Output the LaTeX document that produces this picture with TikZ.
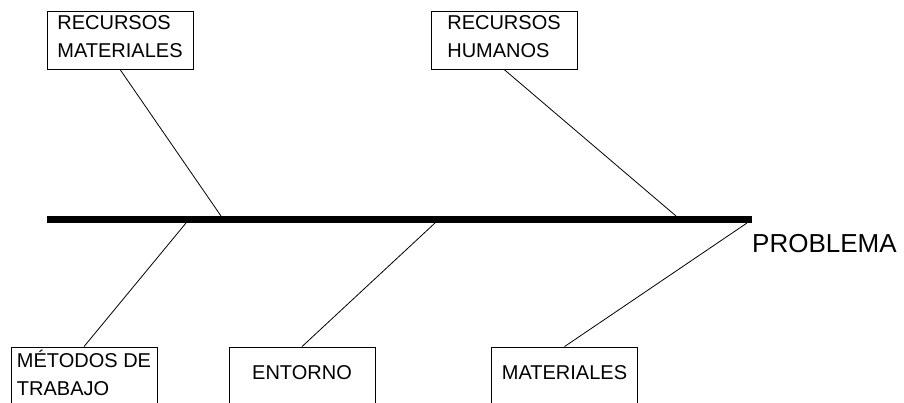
\documentclass[tikz,border=0pt]{standalone}
\usepackage{fontspec}
\setmainfont{Liberation Sans}

\begin{document}
\begin{tikzpicture}[x=1pt,y=-1pt,
  causa/.style={draw,line width=0.8pt,minimum width=146pt,minimum height=58pt,
    inner sep=0pt,text depth=6pt,align=left,font=\fontsize{20}{28}\selectfont},
  espina/.style={line width=0.8pt}]
  % Frame
  \useasboundingbox (0,0) rectangle (904,403);
  \clip (0,0) rectangle (904,403);

  % Spine
  \coordinate (cola) at (47,219.5);
  \coordinate (cabeza) at (752,219.5);
  \draw[line width=7pt] (cola) -- (cabeza);
  \node[anchor=west,inner sep=0pt,font=\fontsize{26}{30}\selectfont] (problema) at (752,244) {PROBLEMA};

  % Causes above
  \node[causa] (recmat) at (120,40) {RECURSOS\\MATERIALES};
  \node[causa] (rechum) at (504,40) {RECURSOS\\HUMANOS};

  % Causes below
  \node[causa] (metodos) at (84,376) {MÉTODOS DE\\TRABAJO};
  \node[causa] (entorno) at (302,376) {ENTORNO};
  \node[causa] (materiales) at (564.5,376) {MATERIALES};

  % Where the bones meet the spine
  \coordinate (recmatpt) at (221,216);
  \coordinate (rechumpt) at (676,216);
  \coordinate (metodospt) at (186,223);
  \coordinate (entornopt) at (435,223);
  \coordinate (materialespt) at (747,223);

  % Bones
  \draw[espina] (recmat.south) -- (recmatpt);
  \draw[espina] (rechum.south) -- (rechumpt);
  \draw[espina] (metodos.north) -- (metodospt);
  \draw[espina] (entorno.north) -- (entornopt);
  \draw[espina] (materiales.north) -- (materialespt);
\end{tikzpicture}
\end{document}
